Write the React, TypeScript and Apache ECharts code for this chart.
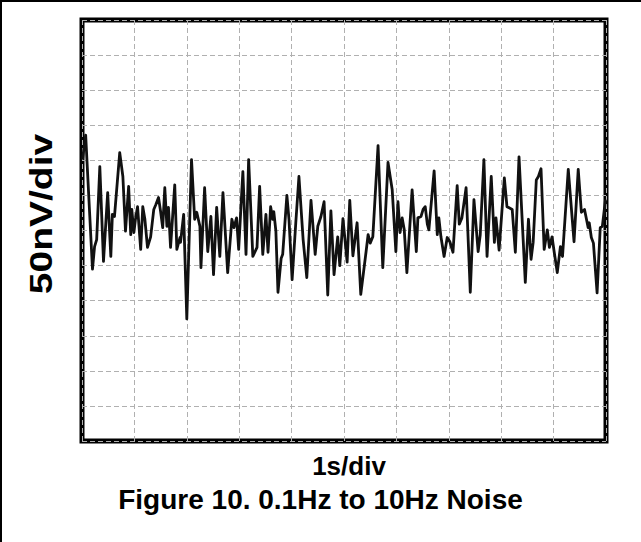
import React, { useEffect, useRef } from "react";
import * as echarts from "echarts";

// time in seconds (1 s/div), 10 divisions
const times: number[] = [
  0.01, 0.07, 0.2, 0.24, 0.28, 0.34, 0.41, 0.49, 0.55, 0.58, 0.62, 0.72, 0.78, 0.83, 0.89, 0.93, 0.95, 0.99,
  1.02, 1.06, 1.12, 1.16, 1.2, 1.25, 1.31, 1.37, 1.41, 1.46, 1.5, 1.54, 1.58, 1.62, 1.65, 1.69, 1.77, 1.81,
  1.87, 1.88, 1.94, 2.0, 2.09, 2.15, 2.19, 2.25, 2.27, 2.34, 2.4, 2.46, 2.51, 2.57, 2.63, 2.69, 2.78, 2.86,
  2.9, 2.95, 2.99, 3.07, 3.13, 3.18, 3.26, 3.34, 3.39, 3.45, 3.51, 3.55, 3.6, 3.64, 3.66, 3.7, 3.74, 3.8,
  3.83, 3.91, 3.95, 4.01, 4.08, 4.14, 4.22, 4.29, 4.37, 4.45, 4.5, 4.56, 4.62, 4.69, 4.75, 4.81, 4.88, 4.92,
  4.98, 5.06, 5.11, 5.17, 5.25, 5.32, 5.42, 5.46, 5.5, 5.55, 5.65, 5.74, 5.84, 5.92, 5.99, 6.03, 6.07, 6.11,
  6.15, 6.2, 6.3, 6.38, 6.41, 6.47, 6.51, 6.55, 6.59, 6.62, 6.72, 6.78, 6.81, 6.85, 6.91, 6.97, 7.02, 7.08,
  7.16, 7.2, 7.25, 7.33, 7.41, 7.48, 7.56, 7.6, 7.67, 7.73, 7.81, 7.87, 7.9, 7.96, 8.06, 8.11, 8.21, 8.27,
  8.34, 8.46, 8.52, 8.57, 8.61, 8.67, 8.71, 8.76, 8.82, 8.88, 8.92, 8.97, 9.01, 9.07, 9.13, 9.17, 9.28, 9.39,
  9.47, 9.53, 9.59, 9.66, 9.68, 9.72, 9.76, 9.83, 9.89, 9.93, 9.99,
];

// noise voltage in nV (50 nV/div)
const noise: number[] = [
  101, 136, -55, -23, -13, 91, -44, 54, -37, 23, 20, 111, 77, -1, 63, -6, 30, -3,
  16, 34, -27, 34, 16, -24, -9, 30, 37, 47, 27, 4, 61, 6, 33, -24, 65, -27,
  -10, -17, 23, -126, 101, 16, 26, 6, -53, 61, -30, 20, -63, 33, -37, 54, -60, 16,
  4, 18, -27, 84, -34, 101, -37, -24, 63, -34, 23, -31, 34, 16, 27, -1, -88, -40,
  -34, 50, 16, -70, 11, 77, -13, -67, 43, -34, 6, 20, 41, -92, 28, -63, -9, -50,
  17, -45, 43, -36, 11, -91, -31, -6, -18, -9, 121, -53, 97, 58, -30, 41, -3, 18,
  1, -60, 58, -30, 18, 20, 30, 34, 9, 1, 85, -6, 18, -9, -37, -10, -16, -31,
  64, 9, 18, 61, -88, 44, -30, -6, 101, -37, 77, -17, 18, -28, 75, 34, 30, -31,
  105, -74, 16, -41, -17, 72, 77, 88, -27, 1, -24, -9, -30, -60, -23, -37, 87, -16,
  87, 26, 30, 4, 11, -10, -18, -89, 4, 6, 44,
];

const xMin = 0;
const xMax = 10;
const xStep = 1;
const yMin = -300;
const yMax = 300;
const yStep = 50;

const xLabel = "1s/div";
const yLabel = "50nV/div";
const figureTitle = "Figure 10. 0.1Hz to 10Hz Noise";

const FONT = "'Liberation Sans', Arial, Helvetica, sans-serif";

export default function App() {
  const ref = useRef<HTMLDivElement>(null);

  useEffect(() => {
    if (!ref.current) return;
    const chart = echarts.init(ref.current, null, { renderer: "svg" });
    const data = times.map((t, i) => [t, noise[i]]);
    const gridLine = { color: "#b0b0b0", width: 1, type: [5, 3] as number[] };
    chart.setOption({
      animation: false,
      backgroundColor: "#ffffff",
      grid: {
        left: 82,
        right: 35,
        top: 20,
        bottom: 101,
        show: true,
        borderColor: "#000000",
        borderWidth: 5,
        backgroundColor: "transparent",
      },
      xAxis: {
        type: "value",
        min: xMin,
        max: xMax,
        interval: xStep,
        axisLabel: { show: false },
        axisTick: { show: false },
        axisLine: { show: false },
        splitLine: { show: true, lineStyle: gridLine },
      },
      yAxis: {
        type: "value",
        min: yMin,
        max: yMax,
        interval: yStep,
        axisLabel: { show: false },
        axisTick: { show: false },
        axisLine: { show: false },
        splitLine: { show: true, lineStyle: gridLine },
      },
      series: [
        {
          type: "line",
          data,
          showSymbol: false,
          symbol: "none",
          clip: true,
          lineStyle: { color: "#111111", width: 2.8, join: "round" },
          z: 1,
        },
      ],
      graphic: [
        { type: "rect", shape: { x: 0, y: 0, width: 2, height: 542 }, style: { fill: "#000" } },
        { type: "rect", shape: { x: 0, y: 0, width: 641, height: 2 }, style: { fill: "#000" } },
        {
          type: "text",
          x: 41.5,
          y: 214,
          rotation: Math.PI / 2,
          scaleX: 1.22,
          style: {
            text: yLabel,
            font: `bold 32px ${FONT}`,
            fill: "#000",
            align: "center",
            verticalAlign: "middle",
          },
        },
        {
          type: "text",
          x: 349,
          y: 466,
          style: {
            text: xLabel,
            font: `bold 26px ${FONT}`,
            fill: "#000",
            align: "center",
            verticalAlign: "middle",
          },
        },
        {
          type: "text",
          x: 320.5,
          y: 499,
          style: {
            text: figureTitle,
            font: `bold 28px ${FONT}`,
            fill: "#000",
            align: "center",
            verticalAlign: "middle",
          },
        },
      ],
    });
    return () => chart.dispose();
  }, []);

  return (
    <div
      ref={ref}
      style={{ position: "absolute", left: 0, top: 0, width: 641, height: 542, background: "#fff" }}
    />
  );
}
